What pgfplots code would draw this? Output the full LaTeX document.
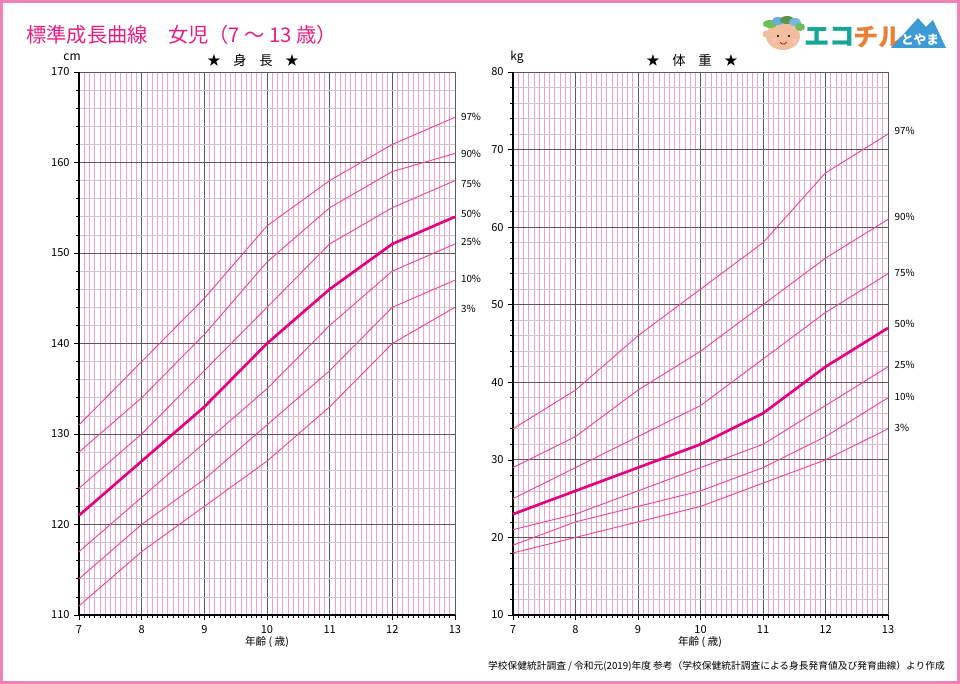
\documentclass[border=0pt]{standalone}
\usepackage{fontspec}
\setmainfont{Noto Sans CJK JP}
\usepackage{pgfplots}
\pgfplotsset{compat=1.18}
\definecolor{framepink}{RGB}{238,130,180}
\definecolor{titlepink}{RGB}{230,30,130}
\definecolor{curve}{RGB}{234,70,155}
\definecolor{curvebold}{RGB}{228,0,127}
\definecolor{gridpink}{RGB}{244,160,204}
\definecolor{gridgray}{RGB}{205,200,204}
\definecolor{majorgray}{RGB}{95,88,90}
\definecolor{ecoteal}{RGB}{22,165,150}
\definecolor{ecoorange}{RGB}{232,128,58}
\definecolor{ecoblue}{RGB}{60,155,212}
\definecolor{skin}{RGB}{242,190,160}
\definecolor{leaf}{RGB}{110,190,90}

\pgfplotsset{growth/.style={
  scale only axis, anchor=south west,
  xmin=7, xmax=13, xtick={7,...,13}, minor x tick num=11,
  minor y tick num=4,
  axis x line*=bottom, axis y line*=left,
  axis line style={draw=black, line width=0.9pt, -},
  tick align=outside, major tick length=3.5pt, minor tick length=2pt,
  every tick/.style={black, line width=0.5pt},
  grid=both,
  major grid style={draw=majorgray, line width=0.7pt},
  minor x grid style={draw=gridpink, line width=0.5pt},
  minor y grid style={draw=gridgray, line width=0.5pt},
  tick label style={font=\fontsize{8.3}{9}\selectfont},
  xticklabel style={yshift=-1pt},
  /pgf/number format/assume math mode=true,
  clip=false,
  thin curve/.style={draw=curve, line width=0.7pt, no markers},
  bold curve/.style={draw=curvebold, line width=2pt, no markers},
}}

\begin{document}
\begin{tikzpicture}[x=0.75pt, y=0.75pt]
\path[use as bounding box] (0,0) rectangle (960,684);
\draw[framepink, line width=2.6pt] (1.7,1.7) rectangle (958.3,682.3);

% title
\node[anchor=west, text=titlepink, font=\fontsize{15.2}{17}\selectfont, inner sep=0pt] at (26,649) {標準成長曲線　女児（7 ～ 13 歳）};

% logo
\fill[skin] (783,648) ellipse (17 and 14);
\fill[skin] (766,650) circle (3.5);
\fill[leaf] (770,660) ellipse (7 and 4);
\fill[ecoblue!80] (778,663) ellipse (6 and 4);
\fill[leaf!80!black] (787,664) ellipse (7 and 4);
\fill[ecoblue!70] (795,662) ellipse (6 and 4);
\fill[leaf] (800,657) ellipse (5 and 4);
\fill[black] (778,648) circle (1.2);
\fill[black] (789,648) circle (1.2);
\fill[pink] (774,643) circle (2.5);
\fill[pink] (794,643) circle (2.5);
\draw[red!60!black, line width=0.5pt] (780,642) arc (200:340:3.5);
\node[anchor=west, text=ecoteal, font=\fontsize{19}{20}\selectfont\bfseries, inner sep=0pt] at (804,647) {エコ};
\node[anchor=west, text=ecoorange, font=\fontsize{19}{20}\selectfont\bfseries, inner sep=0pt] at (853,647) {チル};
\fill[ecoblue] (891,636) -- (918,666) -- (926,657) -- (933,664) -- (946,636) -- cycle;
\node[text=white, font=\fontsize{9.5}{10}\selectfont\bfseries, inner sep=0pt] at (920,644) {とやま};

% panel headings
\node[font=\fontsize{10}{11}\selectfont] at (253,624) {★\hspace{0.95em}身\hspace{0.95em}長\hspace{0.95em}★};
\node[font=\fontsize{10}{11}\selectfont] at (692,624) {★\hspace{0.95em}体\hspace{0.95em}重\hspace{0.95em}★};
\node[font=\fontsize{9}{10}\selectfont] at (72,627) {cm};
\node[font=\fontsize{9}{10}\selectfont] at (517,627) {kg};
\node[font=\fontsize{8}{9}\selectfont] at (267,42) {年齢 ( 歳)};
\node[font=\fontsize{8}{9}\selectfont] at (700,42) {年齢 ( 歳)};
\node[anchor=east, font=\fontsize{7.3}{9}\selectfont, inner sep=0pt] at (945,18) {学校保健統計調査 / 令和元(2019)年度 参考（学校保健統計調査による身長発育値及び発育曲線）より作成};

% height panel
\begin{axis}[growth, at={(59.25pt,51.75pt)}, width=282pt, height=407.25pt,
  ymin=110, ymax=170, ytick={110,120,...,170}]
\addplot[thin curve] coordinates {(7,131)(8,138)(9,145)(10,153)(11,158)(12,162)(13,165)};
\addplot[thin curve] coordinates {(7,128)(8,134)(9,141)(10,149)(11,155)(12,159)(13,161)};
\addplot[thin curve] coordinates {(7,124)(8,130)(9,137)(10,144)(11,151)(12,155)(13,158)};
\addplot[bold curve] coordinates {(7,121)(8,127)(9,133)(10,140)(11,146)(12,151)(13,154)};
\addplot[thin curve] coordinates {(7,117)(8,123)(9,129)(10,135)(11,142)(12,148)(13,151)};
\addplot[thin curve] coordinates {(7,114)(8,120)(9,125)(10,131)(11,137)(12,144)(13,147)};
\addplot[thin curve] coordinates {(7,111)(8,117)(9,122)(10,127)(11,133)(12,140)(13,144)};
\begin{scope}[every node/.style={anchor=west, font=\fontsize{7.4}{8}\selectfont, xshift=1pt}]
\node at (axis cs:13,165) {97\%};
\node at (axis cs:13,161) {90\%};
\node at (axis cs:13,157.6) {75\%};
\node at (axis cs:13,154.3) {50\%};
\node at (axis cs:13,151.2) {25\%};
\node at (axis cs:13,147.1) {10\%};
\node at (axis cs:13,143.8) {3\%};
\end{scope}
\end{axis}

% weight panel
\begin{axis}[growth, at={(384.75pt,51.75pt)}, width=281.25pt, height=407.25pt,
  ymin=10, ymax=80, ytick={10,20,...,80}]
\addplot[thin curve] coordinates {(7,34)(8,39)(9,46)(10,52)(11,58)(12,67)(13,72)};
\addplot[thin curve] coordinates {(7,29)(8,33)(9,39)(10,44)(11,50)(12,56)(13,61)};
\addplot[thin curve] coordinates {(7,25)(8,29)(9,33)(10,37)(11,43)(12,49)(13,54)};
\addplot[bold curve] coordinates {(7,23)(8,26)(9,29)(10,32)(11,36)(12,42)(13,47)};
\addplot[thin curve] coordinates {(7,21)(8,23)(9,26)(10,29)(11,32)(12,37)(13,42)};
\addplot[thin curve] coordinates {(7,19)(8,22)(9,24)(10,26)(11,29)(12,33)(13,38)};
\addplot[thin curve] coordinates {(7,18)(8,20)(9,22)(10,24)(11,27)(12,30)(13,34)};
\begin{scope}[every node/.style={anchor=west, font=\fontsize{7.4}{8}\selectfont, xshift=1.5pt}]
\node at (axis cs:13,72.4) {97\%};
\node at (axis cs:13,61.3) {90\%};
\node at (axis cs:13,54.1) {75\%};
\node at (axis cs:13,47.5) {50\%};
\node at (axis cs:13,42.2) {25\%};
\node at (axis cs:13,38.1) {10\%};
\node at (axis cs:13,34.1) {3\%};
\end{scope}
\end{axis}
\end{tikzpicture}
\end{document}
